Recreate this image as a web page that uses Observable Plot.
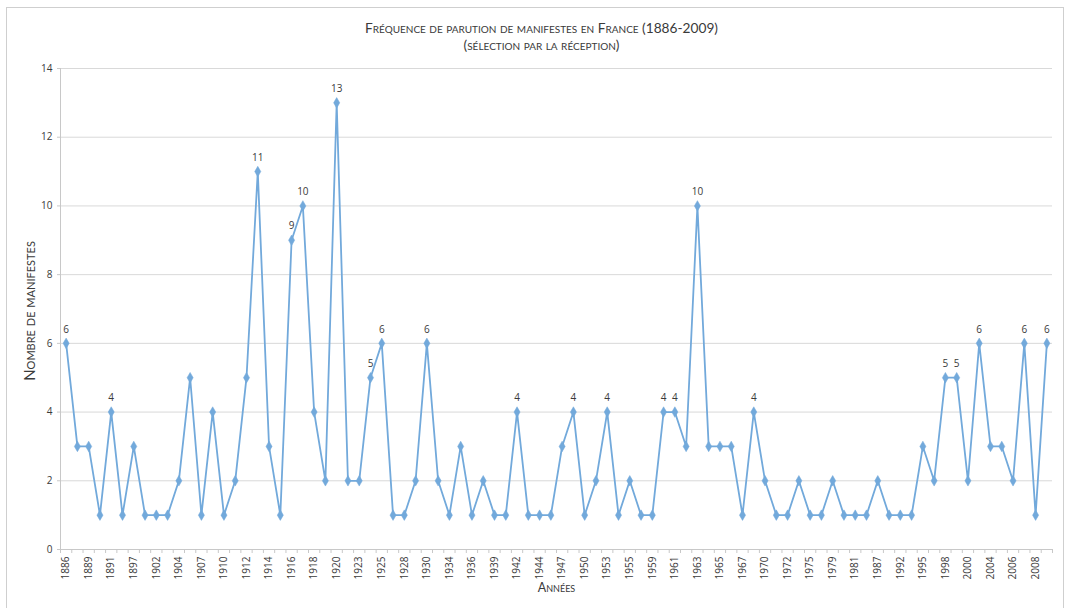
<!DOCTYPE html>
<html>
<head>
<meta charset="utf-8">
<script src="https://cdn.jsdelivr.net/npm/d3@7"></script>
<script src="https://cdn.jsdelivr.net/npm/@observablehq/plot@0.6"></script>
<style>
  html, body { margin: 0; padding: 0; background: #fff; }
  #wrap { position: relative; width: 1067px; height: 608px; overflow: hidden; }
  #border { position: absolute; left: 6px; top: 7px; width: 1058px; height: 640px; border: 1px solid #cfcfcf; box-sizing: border-box; pointer-events: none; }
</style>
</head>
<body>
<div id="wrap"><div id="border"></div></div>
<script>
// Tick labels shown every other category on the x axis
const tickLabels = ["1886","1889","1891","1897","1902","1904","1907","1910","1912","1914",
  "1916","1918","1920","1923","1925","1928","1930","1934","1936","1939",
  "1942","1944","1947","1950","1953","1955","1959","1961","1963","1965",
  "1967","1970","1972","1975","1979","1981","1987","1992","1995","1998",
  "2000","2004","2006","2008"];

// Number of manifestos per category (88 categories)
const values = [6,3,3,1,4,1,3,1,1,1,
  2,5,1,4,1,2,5,11,3,1,
  9,10,4,2,13,2,2,5,6,1,
  1,2,6,2,1,3,1,2,1,1,
  4,1,1,1,3,4,1,2,4,1,
  2,1,1,4,4,3,10,3,3,3,
  1,4,2,1,1,2,1,1,2,1,
  1,1,2,1,1,1,3,2,5,5,
  2,6,3,3,2,6,1,6];

// Categories whose value is annotated
const labeledIdx = [0,4,17,20,21,24,27,28,32,40,45,48,53,54,56,61,78,79,81,85,87];

const yTicks = [0,2,4,6,8,10,12,14];

const n = values.length;
const data = values.map((v, i) => ({i, pos: i + 0.5, v}));
const labeledData = data.filter(d => labeledIdx.includes(d.i));
const labelTickPos = tickLabels.map((t, k) => 2 * k + 0.5);
const boundaryTicks = d3.range(n + 1);

const blue = "#72a9db";
const textColor = "#3a3a3a";
const tickFont = "'Open Sans', 'DejaVu Sans', sans-serif";
const capsFont = "Lato, 'Open Sans', sans-serif";

const chart = Plot.plot({
  width: 1067,
  height: 608,
  marginLeft: 60,
  marginRight: 15,
  marginTop: 68,
  marginBottom: 59,
  style: {fontFamily: tickFont, fontSize: "10px", color: textColor, background: "transparent"},
  x: {domain: [0, n], axis: null},
  y: {domain: [0, 14], axis: null},
  marks: [
    Plot.gridY(yTicks.filter(t => t > 0), {stroke: "#d9d9d9", strokeOpacity: 1}),
    Plot.ruleY([0], {stroke: "#c8c8c8"}),
    Plot.ruleX([0], {stroke: "#c8c8c8"}),
    Plot.axisY({ticks: yTicks, tickSize: 3, tickPadding: 5, stroke: "#c8c8c8", fill: textColor, fontSize: 10, label: null}),
    Plot.axisX({ticks: boundaryTicks, tickSize: 4, tickFormat: () => "", stroke: "#c8c8c8", label: null}),
    Plot.axisX({ticks: labelTickPos, tickSize: 0, tickPadding: 7, tickRotate: -90,
      tickFormat: (d) => tickLabels[Math.round((d - 0.5) / 2)], fill: textColor, fontSize: 10, label: null}),
    Plot.line(data, {x: "pos", y: "v", stroke: blue, strokeWidth: 1.8}),
    Plot.dot(data, {x: "pos", y: "v", symbol: "diamond", r: 3.2, fill: blue, stroke: blue, strokeWidth: 0.5}),
    Plot.text(labeledData, {x: "pos", y: "v", text: "v", dy: -14, fill: textColor, fontSize: 10}),
    Plot.text(["Fréquence de parution de manifestes en France (1886-2009)"], {frameAnchor: "top", dx: -15, dy: -45, fontSize: 13.7, fontFamily: capsFont, fontVariant: "small-caps", fill: textColor}),
    Plot.text(["(sélection par la réception)"], {frameAnchor: "top", dx: -15, dy: -28, fontSize: 13.7, fontFamily: capsFont, fontVariant: "small-caps", fill: textColor}),
    Plot.text(["Nombre de manifestes"], {frameAnchor: "left", textAnchor: "middle", dx: -30, dy: 2, rotate: -90, fontSize: 15, fontFamily: capsFont, fontVariant: "small-caps", fill: textColor}),
    Plot.text(["Années"], {frameAnchor: "bottom", dy: 42, fontSize: 12.5, fontFamily: capsFont, fontVariant: "small-caps", fill: textColor})
  ]
});
document.getElementById("wrap").prepend(chart);
</script>
</body>
</html>
